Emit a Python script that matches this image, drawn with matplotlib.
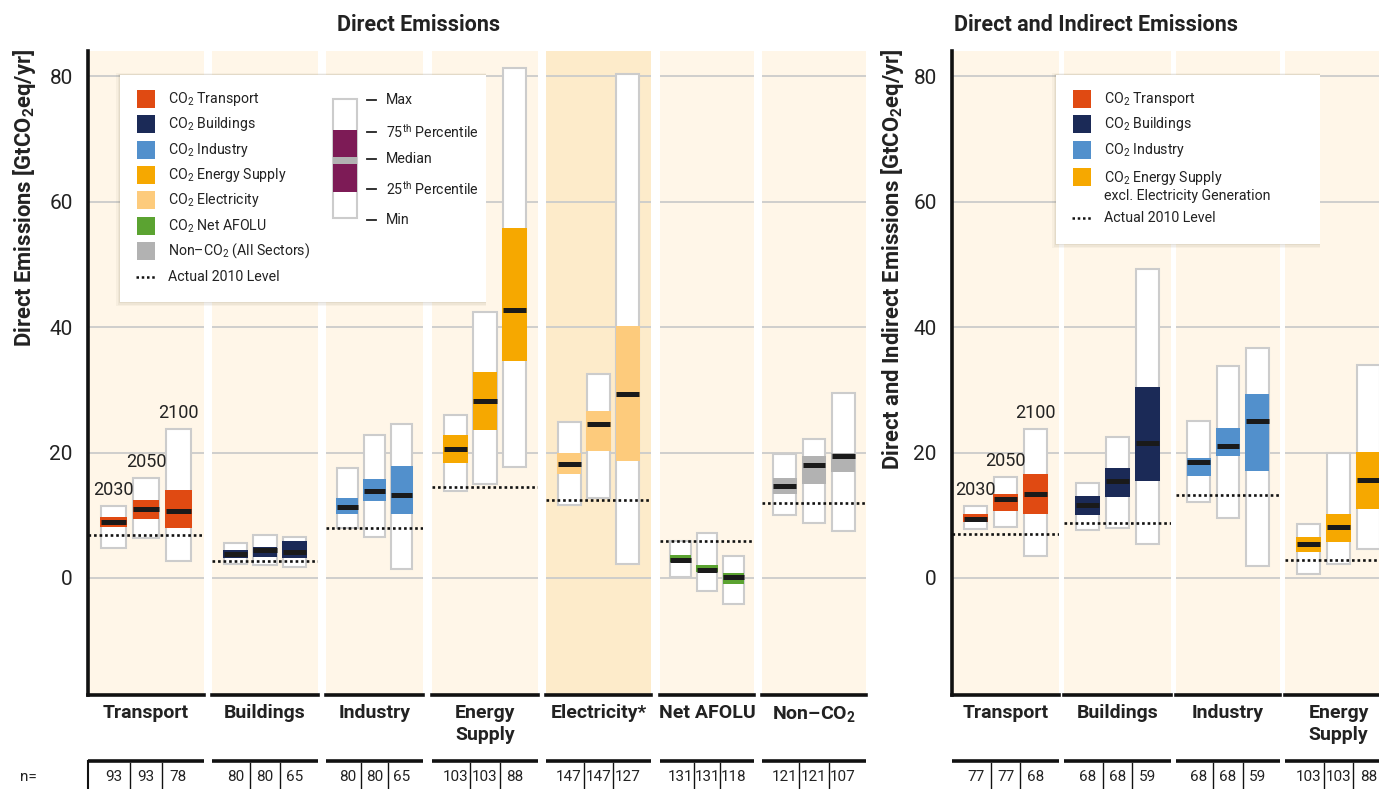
import matplotlib
matplotlib.use("Agg")
import matplotlib.pyplot as plt
from matplotlib.patches import Rectangle

plt.rcParams['font.family'] = ['Roboto', 'DejaVu Sans']
plt.rcParams['mathtext.fontset'] = 'custom'
plt.rcParams['mathtext.rm'] = 'Roboto'
plt.rcParams['mathtext.it'] = 'Roboto:italic'
plt.rcParams['mathtext.bf'] = 'Roboto:bold'

years = ["2030", "2050", "2100"]

# direct emissions, one tuple per year: (min, 25th, median, 75th, max)
d_transport = [(4.8, 8.1, 8.9, 9.7, 11.5), (6.4, 9.4, 11.0, 12.4, 15.9), (2.7, 8.0, 10.7, 14.0, 23.7)]
d_buildings = [(2.2, 3.2, 3.8, 4.5, 5.6), (2.0, 3.4, 4.4, 5.0, 6.9), (1.7, 3.2, 4.2, 5.9, 6.6)]
d_industry = [(8.0, 10.2, 11.3, 12.7, 17.5), (6.5, 12.3, 13.8, 15.8, 22.8), (1.4, 10.2, 13.2, 17.8, 24.5)]
d_energy = [(13.9, 18.3, 20.6, 22.8, 26.0), (15.0, 23.6, 28.2, 32.8, 42.4), (17.7, 34.6, 42.7, 55.8, 81.3)]
d_electricity = [(11.6, 16.6, 18.2, 19.9, 24.9), (12.8, 20.3, 24.6, 26.6, 32.5), (2.2, 18.6, 29.4, 40.2, 80.4)]
d_afolu = [(0.1, 2.5, 2.9, 3.6, 5.9), (-2.1, 1.0, 1.3, 2.1, 7.1), (-4.2, -0.9, 0.2, 0.8, 3.5)]
d_nonco2 = [(10.0, 13.4, 14.7, 15.9, 19.7), (8.7, 15.0, 18.0, 19.4, 22.1), (7.5, 16.9, 19.4, 19.9, 29.5)]
d_levels = [6.8, 2.7, 8.0, 14.5, 12.5, 5.9, 12.0]
d_n = [[93, 93, 78], [80, 80, 65], [80, 80, 65], [103, 103, 88],
       [147, 147, 127], [131, 131, 118], [121, 121, 107]]
d_names = ["Transport", "Buildings", "Industry", "Energy\nSupply", "Electricity*",
           "Net AFOLU", "Non\u2013CO$_\\mathbf{2}$"]

# direct + indirect emissions
i_transport = [(7.8, 8.9, 9.4, 10.2, 11.5), (8.1, 10.7, 12.6, 13.4, 16.1), (3.5, 10.2, 13.4, 16.6, 23.7)]
i_buildings = [(7.6, 10.0, 11.6, 13.1, 15.1), (8.0, 12.9, 15.5, 17.5, 22.5), (5.4, 15.5, 21.5, 30.4, 49.2)]
i_industry = [(12.1, 16.3, 18.5, 19.1, 25.0), (9.6, 19.4, 21.0, 23.9, 33.8), (1.9, 17.1, 25.0, 29.3, 36.7)]
i_energy = [(0.6, 4.1, 5.4, 6.5, 8.6), (2.2, 5.7, 8.2, 10.2, 19.9), (4.6, 11.0, 15.6, 20.1, 33.9)]
i_levels = [7.0, 8.8, 13.2, 2.9]
i_n = [[77, 77, 68], [68, 68, 59], [68, 68, 59], [103, 103, 88]]
i_names = ["Transport", "Buildings", "Industry", "Energy\nSupply"]

c_transport = '#e04a12'
c_buildings = '#1b2a57'
c_industry = '#5290cc'
c_energy = '#f6a800'
c_electricity = '#fdcb7c'
c_afolu = '#5ba331'
c_nonco2 = '#b2b2b2'
c_purple = '#7d1b56'
bg = '#fff6e8'
bg_elec = '#fdebca'
ink = '#222222'

d_boxes = [d_transport, d_buildings, d_industry, d_energy, d_electricity, d_afolu, d_nonco2]
d_colors = [c_transport, c_buildings, c_industry, c_energy, c_electricity, c_afolu, c_nonco2]
i_boxes = [i_transport, i_buildings, i_industry, i_energy]
i_colors = [c_transport, c_buildings, c_industry, c_energy]

# layout (pixels of the 1379x789 image)
W, H = 1379, 789
TOP, BOT = 51, 695
YMIN, YMAX = -18.65, 84.0
d_spans = [(88, 204), (212, 318), (326, 423), (432, 538), (546, 651), (660, 754), (762, 866)]
i_spans = [(952, 1059), (1064, 1171), (1176, 1280), (1285, 1392)]
offs = [0.22, 0.5, 0.78]
bw = 0.22

fig = plt.figure(figsize=(W / 100, H / 100), dpi=100)


def panel(span, boxes, color, level, face, first):
    x0, x1 = span
    ax = fig.add_axes([x0 / W, 1 - BOT / H, (x1 - x0) / W, (BOT - TOP) / H])
    ax.set_facecolor(face)
    ax.set_xlim(0, 1)
    ax.set_ylim(YMIN, YMAX)
    for g in [0, 20, 40, 60, 80]:
        ax.axhline(g, color='#cbcbcb', lw=1.3, zorder=1)
    for p, (lo, q1, med, q3, hi) in zip(offs, boxes):
        ax.bar(p, hi - lo, bottom=lo, width=bw, color='white', edgecolor='#cccccc', lw=1.5, zorder=2)
        ax.bar(p, q3 - q1, bottom=q1, width=bw + 0.01, color=color, lw=0, zorder=3)
        ax.hlines(med, p - bw / 2, p + bw / 2, color='#1a1a1a', lw=3.6, zorder=4)
    ax.axhline(level, color='#111111', lw=1.9, ls=(0, (1, 1.1)), zorder=5)
    for s in ['top', 'right']:
        ax.spines[s].set_visible(False)
    ax.spines['bottom'].set_linewidth(2.6)
    ax.spines['bottom'].set_color('#111111')
    ax.set_xticks([])
    if first:
        ax.spines['left'].set_linewidth(2.6)
        ax.spines['left'].set_color('#111111')
        ax.set_yticks([0, 20, 40, 60, 80])
        ax.tick_params(axis='y', length=0, pad=11, labelsize=15, labelcolor=ink)
        for p, yr, b in zip(offs, years, boxes):
            ax.annotate(yr, (p, b[4]), xytext=(0, 5), textcoords='offset points',
                        ha='center', va='bottom', fontsize=13, color=ink)
    else:
        ax.spines['left'].set_visible(False)
        ax.set_yticks([])
    return ax


for k in range(7):
    face = bg_elec if k == 4 else bg
    panel(d_spans[k], d_boxes[k], d_colors[k], d_levels[k], face, k == 0)
for k in range(4):
    panel(i_spans[k], i_boxes[k], i_colors[k], i_levels[k], bg, k == 0)

# overlay in pixel units for labels, n rows and legends
ov = fig.add_axes([0, 0, 1, 1], zorder=10)
ov.set_xlim(0, W)
ov.set_ylim(H, 0)
ov.axis('off')
ov.patch.set_alpha(0)

ov.text(419, 25, "Direct Emissions", ha='center', va='center', fontsize=15.5, fontweight='bold', color=ink)
ov.text(1096, 25, "Direct and Indirect Emissions", ha='center', va='center', fontsize=15.5,
        fontweight='bold', color=ink)
ov.text(25, 49, "Direct Emissions [GtCO$_\\mathbf{2}$eq/yr]", rotation=90, ha='center', va='top',
        fontsize=15.8, fontweight='bold', color=ink)
ov.text(893, 49, "Direct and Indirect Emissions [GtCO$_\\mathbf{2}$eq/yr]", rotation=90, ha='center',
        va='top', fontsize=15.8, fontweight='bold', color=ink)

ov.text(20, 777, "n=", ha='left', va='center', fontsize=11, color=ink)


def bottom_rows(spans, names, counts):
    for (x0, x1), name, ns in zip(spans, names, counts):
        w = x1 - x0
        ov.text((x0 + x1) / 2, 704, name, ha='center', va='top', fontsize=14, fontweight='bold',
                color=ink, linespacing=1.25)
        ov.plot([x0, x1], [761, 761], color='#111111', lw=2.6, solid_capstyle='butt')
        xs = [x0 + o * w for o in offs]
        for a, b in zip(xs[:-1], xs[1:]):
            ov.plot([(a + b) / 2] * 2, [763, 789], color='#111111', lw=1)
        for x, n in zip(xs, ns):
            ov.text(x, 777, str(n), ha='center', va='center', fontsize=11, color=ink)


bottom_rows(d_spans, d_names, d_n)
bottom_rows(i_spans, i_names, i_n)
ov.plot([88, 88], [761, 789], color='#111111', lw=1.5)


def legend_frame(x0, y0, x1, y1):
    for d, a in [(4, 0.05), (2.5, 0.06), (1.2, 0.08)]:
        ov.add_patch(Rectangle((x0 - d, y0 - d / 2), x1 - x0 + d, y1 - y0 + 1.5 * d,
                               facecolor='#6b5a3a', alpha=a, lw=0))
    ov.add_patch(Rectangle((x0, y0), x1 - x0, y1 - y0, facecolor='white', lw=0))


def legend_items(xsq, xtxt, ys, labels, colors):
    for y, lab, col in zip(ys, labels, colors):
        if col == 'dots':
            ov.plot([xsq - 1, xsq + 20], [y, y], color='#111111', lw=1.8, ls=(0, (1, 1.1)))
        else:
            ov.add_patch(Rectangle((xsq, y - 9), 18, 18, facecolor=col, lw=0))
        ov.text(xtxt, y, lab, ha='left', va='center', fontsize=10.2, color=ink, linespacing=1.2)


legend_frame(120, 75, 486, 302)
legend_items(137, 168, [99, 124, 150, 175, 200, 226, 251, 277],
             ["CO$_2$ Transport", "CO$_2$ Buildings", "CO$_2$ Industry", "CO$_2$ Energy Supply",
              "CO$_2$ Electricity", "CO$_2$ Net AFOLU", "Non\u2013CO$_2$ (All Sectors)", "Actual 2010 Level"],
             [c_transport, c_buildings, c_industry, c_energy, c_electricity, c_afolu, c_nonco2, 'dots'])

# percentile key
ov.add_patch(Rectangle((333, 99), 24, 119, facecolor='white', edgecolor='#cccccc', lw=1.5))
ov.add_patch(Rectangle((333, 130), 24, 62, facecolor=c_purple, lw=0))
ov.add_patch(Rectangle((333, 157), 24, 7, facecolor=c_nonco2, lw=0))
for y, lab in zip([100, 132, 159, 189, 220],
                  ["Max", "75$^{\\mathrm{th}}$ Percentile", "Median", "25$^{\\mathrm{th}}$ Percentile", "Min"]):
    ov.plot([367, 376], [y, y], color=ink, lw=1.3)
    ov.text(386, y, lab, ha='left', va='center', fontsize=10.2, color=ink)

legend_frame(1056, 75, 1320, 244)
# the energy square sits on the first line of its two-line label
ov.add_patch(Rectangle((1073, 168), 18, 18, facecolor=c_energy, lw=0))
legend_items(1073, 1104, [99, 124, 150, 186, 218],
             ["CO$_2$ Transport", "CO$_2$ Buildings", "CO$_2$ Industry",
              "CO$_2$ Energy Supply\nexcl. Electricity Generation", "Actual 2010 Level"],
             [c_transport, c_buildings, c_industry, 'none', 'dots'])

fig.savefig("out.png", dpi=100)
